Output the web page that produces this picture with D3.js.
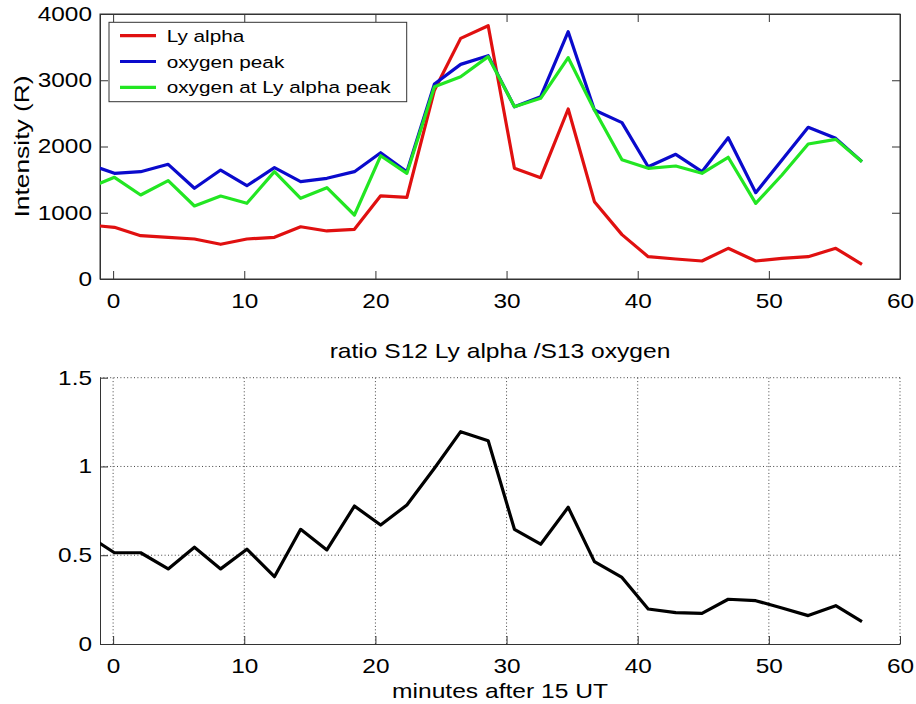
<!DOCTYPE html>
<html>
<head>
<meta charset="utf-8">
<script src="https://cdn.jsdelivr.net/npm/d3@7"></script>
<style>
  html, body { margin: 0; padding: 0; background: #fff; }
  svg { display: block; }
  text { font-family: "Liberation Sans", Arial, Helvetica, sans-serif; fill: #000; }
</style>
</head>
<body>
<svg id="chart" width="916" height="704"></svg>
<script>
// ---- data ----
const minutes = [-1.9, 0.1, 2.1, 4.2, 6.2, 8.2, 10.2, 12.3, 14.3, 16.3, 18.4, 20.4, 22.4, 24.5, 26.5,
                 28.6, 30.6, 32.6, 34.7, 36.7, 38.8, 40.8, 42.9, 44.9, 46.9, 49.0, 51.0, 53.0, 55.1, 57.1];
const lyAlpha = [816, 780, 654, 629, 604, 524, 604, 629, 789, 725, 750, 1255, 1233, 2850, 3632,
                 3823, 1671, 1529, 2566, 1167, 670, 337, 302, 272, 463, 272, 312, 337, 463, 222];
const oxygenPeak = [1733, 1595, 1620, 1731, 1369, 1645, 1408, 1680, 1469, 1520, 1620, 1906, 1620, 2943, 3240,
                    3371, 2600, 2752, 3733, 2550, 2360, 1695, 1882, 1620, 2133, 1303, 1796, 2290, 2123, 1771];
const oxygenAtLy = [1369, 1535, 1268, 1484, 1102, 1253, 1143, 1620, 1218, 1378, 966, 1860, 1595, 2903, 3054,
                    3356, 2601, 2727, 3341, 2550, 1800, 1671, 1706, 1595, 1837, 1142, 1570, 2038, 2108, 1771];
const ratio = [0.61, 0.514, 0.514, 0.423, 0.545, 0.423, 0.534, 0.379, 0.646, 0.530, 0.777, 0.670, 0.783, 0.99, 1.196,
               1.145, 0.646, 0.562, 0.770, 0.464, 0.375, 0.197, 0.177, 0.173, 0.252, 0.244, 0.203, 0.160, 0.216, 0.126];

const seriesNames = ["Ly alpha", "oxygen peak", "oxygen at Ly alpha peak"];
const seriesColors = ["#e01010", "#0a0acc", "#22e622"];
const xTickValues = [0, 10, 20, 30, 40, 50, 60];
const yTopTicks = [0, 1000, 2000, 3000, 4000];
const yBotTicks = [0, 0.5, 1, 1.5];
const yBotLabels = ["0", "0.5", "1", "1.5"];
const titleBottom = "ratio S12 Ly alpha /S13 oxygen";
const xLabel = "minutes after 15 UT";
const yLabelTop = "Intensity (R)";

// ---- layout ----
const svg = d3.select("#chart");
const L = 100, R = 900;
const topT = 14, topB = 279;
const botT = 377.7, botB = 644;
const SX = 1.22;      // horizontal glyph stretch to match reference
const FS = 20;
const axisColor = "#333";

const x = d3.scaleLinear().domain([-1, 60]).range([L, R]);
const yTop = d3.scaleLinear().domain([0, 4000]).range([topB, topT]);
const yBot = d3.scaleLinear().domain([0, 1.5]).range([botB, botT]);

const defs = svg.append("defs");
defs.append("clipPath").attr("id", "clipTop").append("rect")
  .attr("x", L).attr("y", topT).attr("width", R - L).attr("height", topB - topT);
defs.append("clipPath").attr("id", "clipBot").append("rect")
  .attr("x", L).attr("y", botT - 5).attr("width", R - L).attr("height", botB - botT + 5);

function stretchText(g, str, px, py, anchor, size, sx, rotate) {
  const t = g.append("text")
    .attr("transform", `translate(${px},${py})` + (rotate ? ` rotate(${rotate})` : "") + ` scale(${sx},1)`)
    .attr("text-anchor", anchor)
    .style("font-size", size + "px")
    .text(str);
  return t;
}

function styleAxis(g, isLeft) {
  g.selectAll("path.domain").attr("stroke", axisColor).attr("stroke-width", 1);
  g.selectAll(".tick line").attr("stroke", axisColor).attr("stroke-width", 1);
  g.selectAll(".tick text").style("font-size", FS + "px")
    .attr("font-family", null).attr("fill", "#000");
  if (isLeft) {
    g.selectAll(".tick text").attr("x", -8 / SX).attr("transform", `scale(${SX},1)`);
  } else {
    g.selectAll(".tick text").attr("transform", `scale(${SX},1)`);
  }
}

// ================= TOP PLOT =================
const gTop = svg.append("g");

// box
gTop.append("rect").attr("x", L).attr("y", topT).attr("width", R - L).attr("height", topB - topT)
  .attr("fill", "none").attr("stroke", axisColor).attr("stroke-width", 1);

const axB = gTop.append("g").attr("transform", `translate(0,${topB})`)
  .call(d3.axisBottom(x).tickValues(xTickValues).tickFormat(d3.format("d"))
    .tickSizeInner(-8).tickSizeOuter(0).tickPadding(14.5));
styleAxis(axB, false);
const axT = gTop.append("g").attr("transform", `translate(0,${topT})`)
  .call(d3.axisTop(x).tickValues(xTickValues).tickFormat("").tickSizeInner(-8).tickSizeOuter(0));
styleAxis(axT, false);
const axL = gTop.append("g").attr("transform", `translate(${L},0)`)
  .call(d3.axisLeft(yTop).tickValues(yTopTicks).tickFormat(d3.format("d"))
    .tickSizeInner(-8).tickSizeOuter(0).tickPadding(8));
styleAxis(axL, true);
const axR = gTop.append("g").attr("transform", `translate(${R},0)`)
  .call(d3.axisRight(yTop).tickValues(yTopTicks).tickFormat("").tickSizeInner(-8).tickSizeOuter(0));
styleAxis(axR, false);

const lineTop = d3.line().x((d, i) => x(minutes[i])).y(d => yTop(d));
const topSeries = [lyAlpha, oxygenPeak, oxygenAtLy];
const gLines = gTop.append("g").attr("clip-path", "url(#clipTop)");
topSeries.forEach((s, k) => {
  gLines.append("path").datum(s).attr("d", lineTop)
    .attr("fill", "none").attr("stroke", seriesColors[k])
    .attr("stroke-width", 3.2).attr("stroke-linejoin", "round").attr("stroke-linecap", "butt");
});

// y label
stretchText(gTop, yLabelTop, 29, (topT + topB) / 2, "middle", 20, 1.32, -90);

// legend
const lg = gTop.append("g");
const lgX = 109, lgY = 22.3, lgW = 297.7, lgH = 79.4;
lg.append("rect").attr("x", lgX).attr("y", lgY).attr("width", lgW).attr("height", lgH)
  .attr("fill", "#fff").attr("stroke", axisColor).attr("stroke-width", 1);
seriesNames.forEach((name, k) => {
  const cy = lgY + 13.4 + k * 25.8;
  lg.append("line").attr("x1", lgX + 11).attr("x2", lgX + 47).attr("y1", cy).attr("y2", cy)
    .attr("stroke", seriesColors[k]).attr("stroke-width", 3.2);
  stretchText(lg, name, lgX + 57.7, cy + 6, "start", 17, SX, 0);
});

// ================= BOTTOM PLOT =================
const gBot = svg.append("g");

// grid
const gridStyle = sel => sel.attr("stroke", "#444").attr("stroke-width", 1).attr("stroke-dasharray", "1,2.4");
xTickValues.forEach(v => {
  gBot.append("line").attr("x1", x(v)).attr("x2", x(v)).attr("y1", botT).attr("y2", botB).call(gridStyle);
});
yBotTicks.filter(v => v > 0).forEach(v => {
  gBot.append("line").attr("x1", L).attr("x2", R).attr("y1", yBot(v)).attr("y2", yBot(v)).call(gridStyle);
});

const bB = gBot.append("g").attr("transform", `translate(0,${botB})`)
  .call(d3.axisBottom(x).tickValues(xTickValues).tickFormat(d3.format("d"))
    .tickSizeInner(-8).tickSizeOuter(0).tickPadding(14.5));
styleAxis(bB, false);
const bL = gBot.append("g").attr("transform", `translate(${L},0)`)
  .call(d3.axisLeft(yBot).tickValues(yBotTicks).tickFormat((d, i) => yBotLabels[i])
    .tickSizeInner(-8).tickSizeOuter(0).tickPadding(8));
styleAxis(bL, true);

const lineBot = d3.line().x((d, i) => x(minutes[i])).y(d => yBot(d));
gBot.append("g").attr("clip-path", "url(#clipBot)")
  .append("path").datum(ratio).attr("d", lineBot)
  .attr("fill", "none").attr("stroke", "#000").attr("stroke-width", 3.2)
  .attr("stroke-linejoin", "round");

stretchText(gBot, titleBottom, (L + R) / 2, 358, "middle", 20.5, 1.2, 0);
stretchText(gBot, xLabel, (L + R) / 2, 697.5, "middle", 20.5, 1.2, 0);
</script>
</body>
</html>
